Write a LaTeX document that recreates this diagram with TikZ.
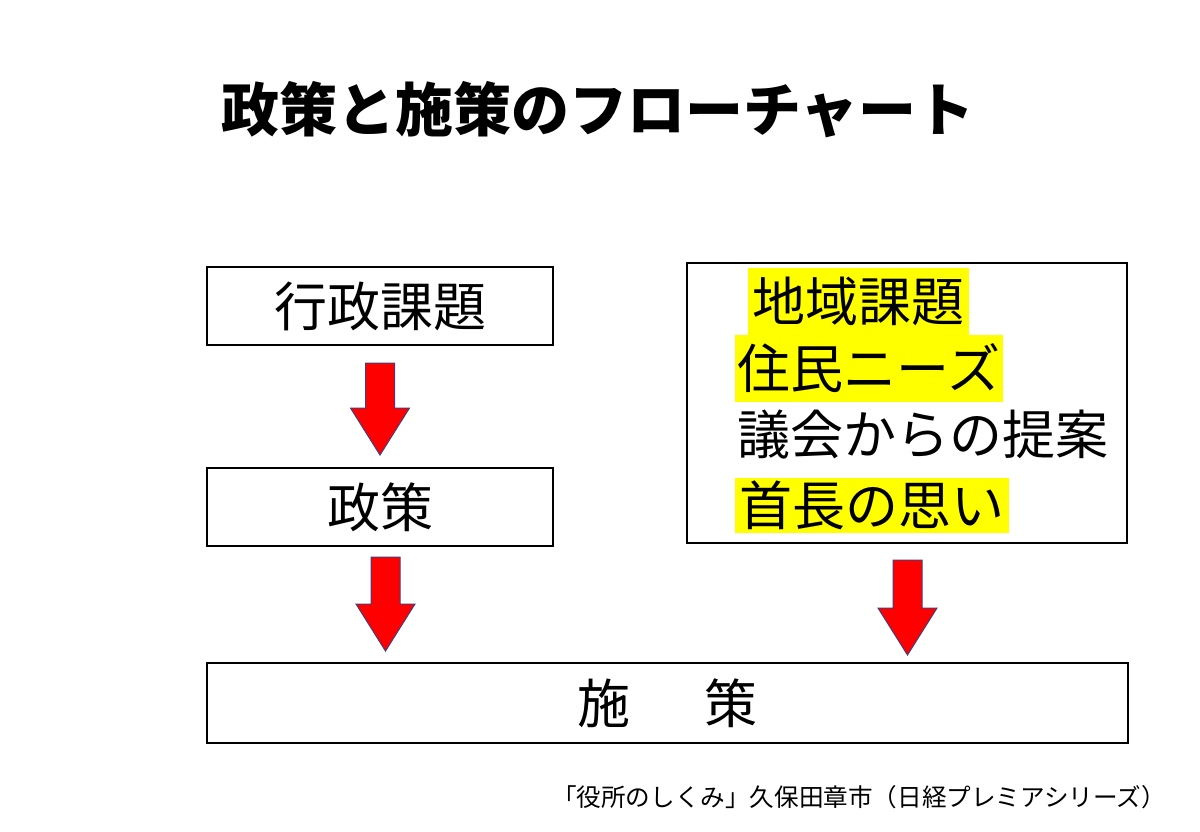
\documentclass[tikz,border=0pt]{standalone}
\usepackage{fontspec}
\setmainfont{Noto Sans CJK JP}
\definecolor{arrowred}{RGB}{255,0,0}
\definecolor{arrowedge}{RGB}{70,60,120}
\definecolor{marker}{RGB}{255,255,0}

\begin{document}
\begin{tikzpicture}[x=1pt, y=-1pt,
	box/.style={draw, line width=2.5pt, inner sep=0pt},
	body/.style={font=\fontsize{53}{60}\selectfont, inner sep=0pt},
	hl/.style={body, fill=marker},
	blockarrow/.style={fill=arrowred, draw=arrowedge, line width=1pt, line join=miter}]

\useasboundingbox (0,0) rectangle (1200,831);

\node[font=\fontsize{58}{64}\selectfont\bfseries] (title) at (598,110) {政策と施策のフローチャート};

% left column
\node[box, body, minimum width=346pt, minimum height=78pt] (gyosei) at (380,306) {行政課題};
\node[box, body, minimum width=346pt, minimum height=78pt] (seisaku) at (380,507) {政策};

% right box
\node[box, minimum width=440pt, minimum height=280pt] (chiiki) at (907,403) {};
\node[hl, minimum width=221pt, minimum height=67pt] (kadai) at (858.5,301.5) {地域課題};
\node[hl, minimum width=268pt, minimum height=67pt] (needs) at (869,368.5) {住民ニーズ};
\node[body] (gikai) at (923,435) {議会からの提案};
\node[hl, minimum width=274pt, minimum height=55pt] (shucho) at (872,505.5) {首長の思い};

% bottom
\node[box, body, minimum width=921pt, minimum height=80pt] (shisaku) at (667.5,703) {施\hspace{1.4em}策};

\foreach \x\y\l in {380/363/92, 385.5/557/94, 907.5/560/95}{
	\draw[blockarrow] (\x-14.5,\y) -- ++(29,0) -- ++(0,\l-47) -- ++(15,0)
		-- (\x,\y+\l) -- (\x-29.5,\y+\l-47) -- ++(15,0) -- cycle;
}

\node[font=\fontsize{24.6}{27}\selectfont, inner sep=0pt] (source) at (859,797) {「役所のしくみ」久保田章市（日経プレミアシリーズ）};

\end{tikzpicture}
\end{document}
